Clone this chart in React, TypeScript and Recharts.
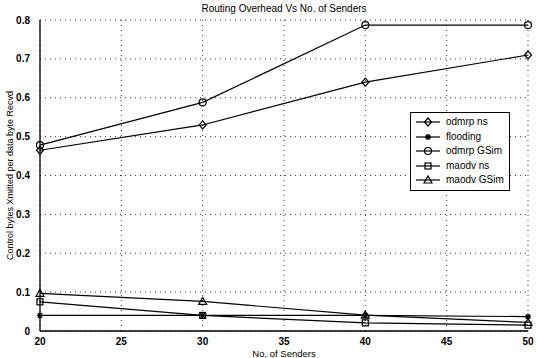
import { CartesianGrid, Label, Line, LineChart, XAxis, YAxis } from "recharts";

const senders = [20, 30, 40, 50];
const odmrpNs = [0.465, 0.53, 0.64, 0.71];
const flooding = [0.04, 0.04, 0.04, 0.037];
const odmrpGSim = [0.478, 0.588, 0.787, 0.787];
const maodvNs = [0.075, 0.04, 0.021, 0.015];
const maodvGSim = [0.097, 0.076, 0.041, 0.022];

const xTicks = [20, 25, 30, 35, 40, 45, 50];
const yTicks = [0, 0.1, 0.2, 0.3, 0.4, 0.5, 0.6, 0.7, 0.8];

const seriesNames = ["odmrp ns", "flooding", "odmrp GSim", "maodv ns", "maodv GSim"];
const seriesShapes = ["diamond", "star", "circle", "square", "triangle"];
const seriesKeys = ["odmrpNs", "flooding", "odmrpGSim", "maodvNs", "maodvGSim"];

const rows = senders.map((s, i) => ({
  senders: s,
  odmrpNs: odmrpNs[i],
  flooding: flooding[i],
  odmrpGSim: odmrpGSim[i],
  maodvNs: maodvNs[i],
  maodvGSim: maodvGSim[i],
}));

const font = "'Liberation Sans', Arial, sans-serif";

function Marker({ shape, cx, cy }: { shape: string; cx: number; cy: number }) {
  const s = 3.5;
  const common = { fill: "none", stroke: "#000", strokeWidth: 1.2 };
  if (shape === "diamond")
    return <path d={`M${cx},${cy - s - 0.5}L${cx + s},${cy}L${cx},${cy + s + 0.5}L${cx - s},${cy}Z`} {...common} />;
  if (shape === "circle") return <circle cx={cx} cy={cy} r={s} {...common} />;
  if (shape === "square") return <rect x={cx - s + 0.5} y={cy - s + 0.5} width={2 * s - 1} height={2 * s - 1} {...common} />;
  if (shape === "triangle")
    return <path d={`M${cx},${cy - s - 0.5}L${cx + s + 0.5},${cy + s - 0.5}L${cx - s - 0.5},${cy + s - 0.5}Z`} {...common} />;
  return (
    <g stroke="#000" strokeWidth={1.4}>
      <line x1={cx - 3} y1={cy} x2={cx + 3} y2={cy} />
      <line x1={cx} y1={cy - 3} x2={cx} y2={cy + 3} />
      <line x1={cx - 2.2} y1={cy - 2.2} x2={cx + 2.2} y2={cy + 2.2} />
      <line x1={cx - 2.2} y1={cy + 2.2} x2={cx + 2.2} y2={cy - 2.2} />
    </g>
  );
}

function LegendBox() {
  return (
    <div
      style={{
        position: "absolute",
        left: 410,
        top: 112,
        width: 94,
        border: "1px solid #000",
        background: "#fff",
        padding: "2px 0 2px 4px",
        fontFamily: font,
        fontSize: 10,
        lineHeight: "14.5px",
        whiteSpace: "nowrap",
      }}
    >
      {seriesNames.map((name, i) => (
        <div key={name} style={{ display: "flex", alignItems: "center" }}>
          <svg width={26} height={12} style={{ marginRight: 5 }}>
            <line x1={1} y1={6} x2={25} y2={6} stroke="#000" strokeWidth={1.2} />
            <Marker shape={seriesShapes[i]} cx={13} cy={6} />
          </svg>
          <span>{name}</span>
        </div>
      ))}
    </div>
  );
}

export default function App() {
  return (
    <div style={{ position: "absolute", left: 0, top: 0, width: 536, height: 358, background: "#fff" }}>
      <div
        style={{
          position: "absolute",
          top: 3,
          left: 40,
          width: 488,
          textAlign: "center",
          fontFamily: font,
          fontSize: 10,
        }}
      >
        Routing Overhead Vs No. of Senders
      </div>
      <LineChart width={536} height={358} data={rows} margin={{ top: 20, right: 8, left: 0, bottom: 0 }}>
        <CartesianGrid stroke="#000" strokeDasharray="1 4" strokeWidth={0.8} />
        <XAxis
          type="number"
          dataKey="senders"
          domain={[20, 50]}
          ticks={xTicks}
          height={27}
          stroke="#000"
          strokeWidth={1.3}
          tickLine={false}
          tickMargin={1}
          tick={{ fill: "#000", fontSize: 10, fontFamily: font, fontWeight: "bold" }}
        >
          <Label value="No. of Senders" position="insideBottom" offset={1} style={{ fill: "#000", fontSize: 9.5, fontFamily: font }} />
        </XAxis>
        <XAxis xAxisId="top" orientation="top" type="number" domain={[20, 50]} height={0} stroke="#000" strokeWidth={1.3} tick={false} tickLine={false} />
        <YAxis
          type="number"
          domain={[0, 0.8]}
          ticks={yTicks}
          width={40}
          stroke="#000"
          strokeWidth={1.3}
          tickLine={false}
          tickMargin={4}
          tick={{ fill: "#000", fontSize: 10, fontFamily: font, fontWeight: "bold" }}
        >
          <Label
            value="Control bytes Xmitted per data byte Recvd"
            angle={-90}
            position="insideLeft"
            offset={10}
            style={{ textAnchor: "middle", fill: "#000", fontSize: 9, fontFamily: font }}
          />
        </YAxis>
        <YAxis yAxisId="right" orientation="right" domain={[0, 0.8]} width={0} stroke="#000" strokeWidth={1.3} tick={false} tickLine={false} />
        {seriesKeys.map((key, i) => (
          <Line
            key={key}
            dataKey={key}
            name={seriesNames[i]}
            stroke="#000"
            strokeWidth={1.2}
            isAnimationActive={false}
            dot={(p: any) => <Marker key={`${key}-${p.index}`} shape={seriesShapes[i]} cx={p.cx} cy={p.cy} />}
            activeDot={false}
          />
        ))}
      </LineChart>
      <LegendBox />
    </div>
  );
}
